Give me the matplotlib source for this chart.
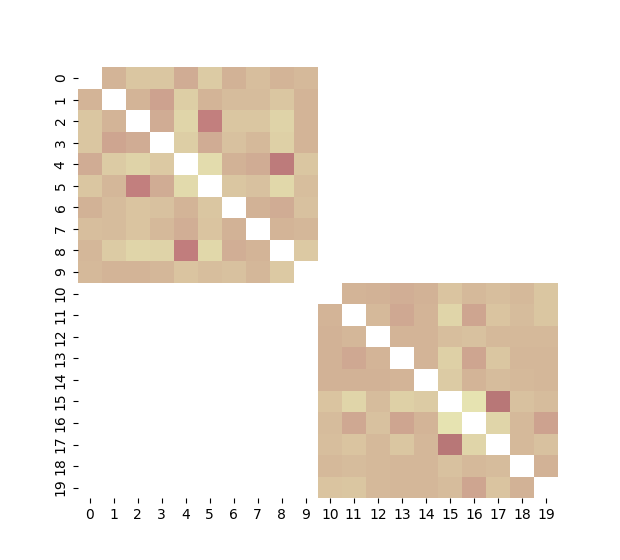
import matplotlib
matplotlib.use("Agg")
import matplotlib.pyplot as plt
import seaborn as sns
import numpy as np

plt.rcParams["figure.figsize"] = (6.2, 5.6)
plt.rcParams["figure.dpi"] = 100

nan = np.nan

# two 10x10 blocks on the diagonal, everything else is masked
block_a = [
    [nan, 0.53, 0.60, 0.60, 0.50, 0.62, 0.52, 0.57, 0.53, 0.55],
    [0.53, nan, 0.53, 0.47, 0.63, 0.53, 0.56, 0.56, 0.60, 0.53],
    [0.60, 0.53, nan, 0.50, 0.66, 0.37, 0.60, 0.60, 0.65, 0.53],
    [0.60, 0.48, 0.50, nan, 0.63, 0.50, 0.58, 0.55, 0.64, 0.53],
    [0.50, 0.62, 0.65, 0.61, nan, 0.69, 0.52, 0.50, 0.35, 0.60],
    [0.60, 0.54, 0.37, 0.50, 0.68, nan, 0.60, 0.58, 0.67, 0.57],
    [0.52, 0.56, 0.59, 0.58, 0.53, 0.60, nan, 0.52, 0.50, 0.58],
    [0.57, 0.56, 0.59, 0.55, 0.51, 0.59, 0.52, nan, 0.53, 0.54],
    [0.54, 0.62, 0.66, 0.65, 0.36, 0.67, 0.51, 0.53, nan, 0.61],
    [0.55, 0.53, 0.53, 0.54, 0.59, 0.57, 0.58, 0.54, 0.61, nan],
]
block_b = [
    [nan, 0.53, 0.52, 0.51, 0.52, 0.59, 0.55, 0.57, 0.55, 0.60],
    [0.53, nan, 0.55, 0.49, 0.53, 0.66, 0.48, 0.59, 0.56, 0.60],
    [0.52, 0.54, nan, 0.53, 0.53, 0.57, 0.58, 0.55, 0.55, 0.55],
    [0.52, 0.49, 0.53, nan, 0.53, 0.64, 0.48, 0.60, 0.54, 0.54],
    [0.52, 0.52, 0.52, 0.53, nan, 0.62, 0.53, 0.56, 0.55, 0.54],
    [0.59, 0.66, 0.56, 0.64, 0.62, nan, 0.72, 0.33, 0.58, 0.56],
    [0.56, 0.49, 0.58, 0.48, 0.53, 0.72, nan, 0.66, 0.55, 0.47],
    [0.57, 0.59, 0.55, 0.60, 0.54, 0.33, 0.66, nan, 0.55, 0.58],
    [0.55, 0.56, 0.55, 0.54, 0.54, 0.58, 0.55, 0.56, nan, 0.52],
    [0.59, 0.60, 0.55, 0.54, 0.54, 0.56, 0.48, 0.59, 0.52, nan],
]

n = 20
mat = np.full((n, n), nan)
mat[:10, :10] = block_a
mat[10:, 10:] = block_b

fig, ax = plt.subplots()
sns.heatmap(mat, cmap="pink", vmin=0, vmax=1, cbar=False, ax=ax)
plt.savefig("out.png")
